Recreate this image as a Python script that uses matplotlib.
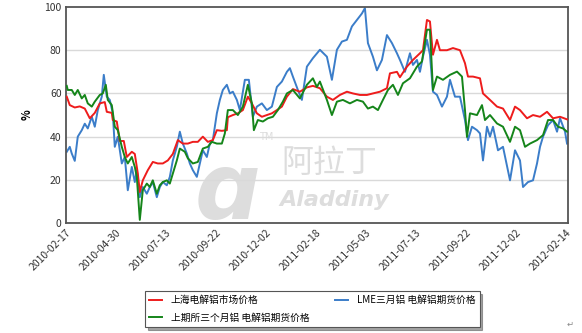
import matplotlib.pyplot as plt
import numpy as np

plt.rcParams['font.family'] = ['Noto Sans CJK SC', 'DejaVu Sans']

# 横轴刻度（交易日序号）
tick_pos = [0, 50, 100, 150, 200, 250, 300, 350, 400, 450, 500]
tick_labels = ['2010-02-17', '2010-04-30', '2010-07-13', '2010-09-22', '2010-12-02',
               '2011-02-18', '2011-05-03', '2011-07-13', '2011-09-22', '2011-12-02',
               '2012-02-14']

# 上海电解铝市场价格
red_days = [1, 4, 9, 14, 19, 24, 29, 34, 39, 41, 46, 47, 51, 54, 58, 61, 66, 69, 72, 74,
            77, 82, 87, 92, 97, 102, 107, 112, 117, 122, 127, 132, 137, 142, 147, 151, 156,
            161, 162, 167, 172, 177, 182, 186, 191, 196, 201, 206, 211, 216, 221, 227, 234,
            241, 247, 254, 261, 267, 274, 281, 287, 294, 301, 307, 314, 321, 324, 331, 334,
            341, 347, 354, 357, 361, 364, 367, 371, 374, 381, 387, 394, 399, 402, 407, 414,
            417, 424, 431, 437, 444, 449, 454, 461, 467, 474, 481, 487, 494, 501]
red_vals = [58.5, 54.6, 53.5, 54.0, 53.0, 48.5, 51.0, 55.4, 56.0, 51.5, 51.0, 47.7, 47.0,
            38.0, 38.0, 30.6, 33.0, 32.0, 23.0, 14.4, 19.8, 24.5, 28.3, 27.6, 27.6, 29.0,
            32.0, 38.4, 36.8, 36.8, 37.6, 37.6, 40.0, 37.6, 38.4, 43.0, 42.7, 43.0, 49.0,
            50.0, 50.8, 52.3, 58.5, 55.4, 50.8, 49.2, 50.0, 50.8, 52.3, 53.9, 58.5, 62.0,
            60.8, 62.8, 63.5, 62.4, 58.5, 57.0, 59.3, 60.8, 60.0, 59.3, 59.3, 60.0, 60.8,
            62.4, 69.3, 70.0, 67.5, 72.4, 75.5, 78.6, 80.0, 94.0, 93.3, 77.9, 84.8, 80.0,
            80.0, 81.0, 80.0, 74.0, 67.8, 67.8, 67.0, 60.0, 57.0, 53.9, 53.0, 47.7, 53.9,
            52.3, 48.5, 50.0, 49.2, 51.5, 48.5, 49.2, 48.0]

# LME三月铝 电解铝期货价格
blue_days = [1, 4, 6, 9, 12, 16, 19, 22, 26, 29, 32, 36, 38, 41, 44, 47, 49, 52, 56, 59,
             62, 66, 69, 71, 74, 77, 81, 84, 87, 91, 94, 97, 101, 104, 107, 111, 114, 117,
             121, 124, 127, 131, 134, 137, 141, 144, 147, 151, 154, 157, 161, 164, 167, 171,
             174, 179, 183, 187, 191, 196, 201, 206, 211, 216, 221, 224, 227, 232, 236, 241,
             247, 254, 261, 266, 271, 276, 281, 286, 291, 296, 299, 302, 307, 311, 316, 321,
             326, 331, 334, 339, 344, 347, 351, 354, 357, 361, 364, 367, 371, 376, 381, 384,
             389, 394, 399, 402, 406, 411, 414, 417, 421, 424, 427, 432, 437, 444, 449, 454,
             457, 462, 467, 471, 474, 477, 482, 487, 491, 494, 499, 501]
blue_vals = [33.0, 35.3, 32.2, 28.8, 40.0, 43.0, 46.0, 43.8, 49.2, 44.6, 52.3, 58.5, 68.6,
             58.5, 57.0, 50.8, 35.3, 40.0, 27.6, 30.6, 15.2, 26.0, 19.0, 24.5, 12.0, 16.7,
             13.6, 16.7, 19.0, 12.0, 16.7, 19.0, 17.5, 21.4, 29.0, 35.3, 42.3, 36.8, 32.2,
             27.6, 24.5, 21.4, 27.6, 33.7, 30.6, 36.8, 38.4, 50.8, 57.0, 61.6, 64.0, 60.0,
             60.8, 57.0, 52.3, 66.3, 66.3, 49.2, 53.9, 55.4, 52.3, 53.9, 63.0, 65.5, 70.0,
             71.7, 67.8, 61.6, 57.0, 72.4, 76.3, 80.2, 77.0, 66.3, 80.2, 84.0, 84.8, 91.0,
             94.0, 97.0, 99.5, 83.3, 77.0, 70.7, 75.5, 87.0, 83.3, 78.6, 75.5, 70.0, 78.6,
             73.2, 75.5, 70.0, 77.0, 84.8, 77.9, 60.8, 59.3, 53.9, 58.5, 66.3, 58.5, 58.5,
             47.7, 38.4, 44.6, 43.0, 41.5, 29.0, 44.6, 40.0, 44.6, 33.7, 35.3, 19.8, 33.7,
             29.0, 16.7, 19.0, 19.8, 27.6, 35.3, 40.0, 45.3, 47.7, 42.3, 48.5, 42.3, 36.8]

# 上期所三个月铝 电解铝期货价格
green_days = [1, 2, 6, 9, 12, 16, 19, 22, 26, 29, 34, 37, 40, 42, 46, 49, 52, 56, 59, 62,
              66, 69, 71, 74, 77, 81, 84, 87, 91, 94, 97, 101, 104, 107, 111, 114, 119, 122,
              127, 132, 137, 142, 146, 151, 156, 159, 162, 167, 172, 177, 182, 186, 188, 192,
              197, 202, 207, 212, 217, 221, 227, 234, 241, 247, 251, 254, 261, 266, 271, 277,
              284, 291, 297, 302, 307, 312, 317, 322, 327, 332, 337, 344, 351, 356, 361, 364,
              367, 371, 377, 384, 391, 396, 399, 401, 404, 411, 416, 419, 424, 431, 437, 444,
              449, 454, 459, 464, 471, 477, 482, 487, 492, 497, 501]
green_vals = [63.5, 61.6, 61.6, 59.3, 61.6, 57.7, 59.3, 55.4, 53.9, 56.2, 59.3, 60.0, 64.0,
              57.0, 54.6, 44.6, 43.0, 35.3, 30.6, 27.6, 30.6, 26.0, 21.4, 1.5, 15.2, 18.3,
              16.7, 19.8, 13.6, 17.5, 19.0, 19.8, 18.3, 22.9, 29.0, 34.5, 33.0, 30.0, 27.6,
              28.3, 34.5, 35.3, 37.6, 36.8, 36.8, 41.5, 52.3, 52.3, 50.0, 53.9, 64.0, 55.4,
              43.0, 47.7, 47.0, 48.5, 49.2, 52.3, 56.2, 60.0, 61.6, 57.7, 64.0, 67.0, 63.0,
              65.5, 57.0, 50.0, 56.2, 57.0, 55.4, 57.0, 56.2, 53.0, 53.9, 52.3, 57.0, 61.6,
              64.0, 59.3, 64.7, 67.0, 72.4, 74.8, 89.5, 89.5, 61.6, 67.8, 66.3, 68.6, 70.1,
              67.8, 52.3, 39.9, 50.8, 50.0, 54.6, 47.7, 50.0, 46.1, 44.6, 37.6, 44.6, 43.0,
              35.3, 36.8, 38.4, 40.7, 47.7, 47.7, 44.6, 43.8, 42.3]

fig = plt.figure(figsize=(5.82, 3.33), dpi=100)
ax = fig.add_axes([0.113, 0.330, 0.863, 0.649])

# 水印
wm = '#dddddd'
ax.text(0.255, 0.02, 'ɑ', transform=ax.transAxes, fontsize=66, fontweight='bold',
        style='italic', color=wm, zorder=0, family=['DejaVu Sans'])
ax.text(0.385, 0.385, 'TM', transform=ax.transAxes, fontsize=7, color=wm, zorder=0,
        family=['DejaVu Sans'])
ax.text(0.43, 0.235, '阿拉丁', transform=ax.transAxes, fontsize=23, color=wm,
        zorder=0, family=['Noto Sans CJK SC'])
ax.text(0.425, 0.08, 'Aladdiny', transform=ax.transAxes, fontsize=16, fontweight='bold',
        style='italic', color=wm, zorder=0, family=['DejaVu Sans'])

ax.plot(red_days, red_vals, color='#ee1c1c', lw=1.4, label='上海电解铝市场价格', zorder=3)
ax.plot(blue_days, blue_vals, color='#3b7dc9', lw=1.4, label='LME三月铝 电解铝期货价格', zorder=2)
ax.plot(green_days, green_vals, color='#15851a', lw=1.4, label='上期所三个月铝 电解铝期货价格', zorder=4)

ax.set_xlim(0, 502)
ax.set_ylim(0, 100)
ax.set_yticks([0, 20, 40, 60, 80, 100])
ax.set_xticks(tick_pos)
ax.set_xticklabels(tick_labels, rotation=45, ha='right', rotation_mode='anchor')
ax.tick_params(axis='both', length=0, labelsize=7.5, colors='#333333', pad=3)
for y in [20, 40, 60, 80]:
    ax.axhline(y, color='#d9d9d9', lw=1, zorder=1)
for s in ax.spines.values():
    s.set_color('#555555')
    s.set_linewidth(1.3)
ax.set_ylabel('%', fontsize=8, fontweight='bold', labelpad=8)

# 图例（对应顺序：红、绿 / 蓝）
h, l = ax.get_legend_handles_labels()
leg = fig.legend([h[0], h[2], h[1]], [l[0], l[2], l[1]], ncol=2, loc='lower left',
                 mode='expand', bbox_to_anchor=(0.249, 0.018, 0.575, 0.117),
                 bbox_transform=fig.transFigure,
                 fontsize=7, frameon=True, fancybox=False, shadow=True,
                 handlelength=1.3, columnspacing=1.0, handletextpad=0.9, borderpad=0.45,
                 labelspacing=0.75, borderaxespad=0)
leg.get_frame().set_edgecolor('#555555')
leg.get_frame().set_linewidth(0.8)

fig.text(0.985, 0.02, '↵', fontsize=6, color='#888888', ha='right', family=['DejaVu Sans'])

fig.savefig('out.png', dpi=100)
